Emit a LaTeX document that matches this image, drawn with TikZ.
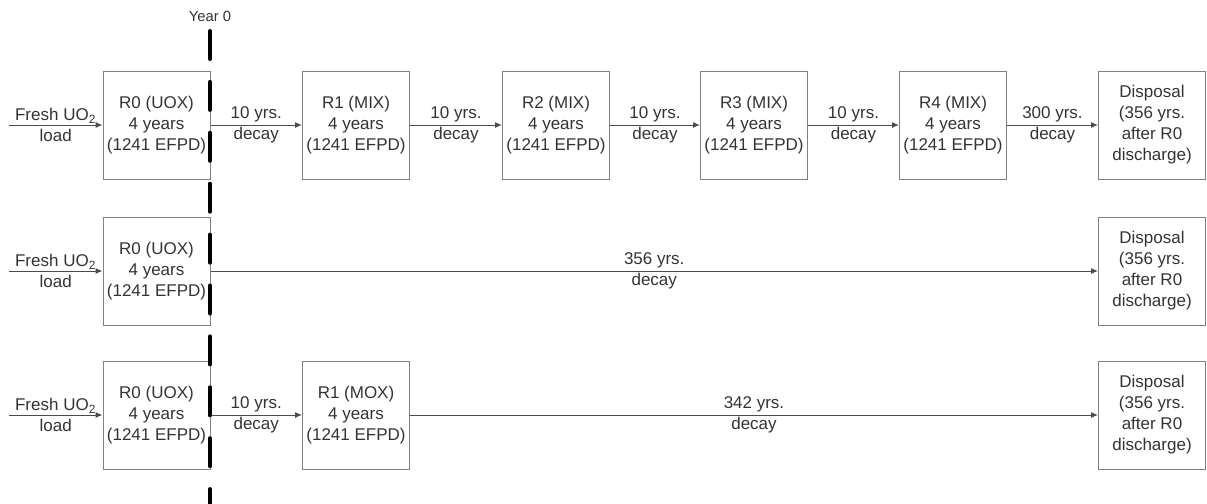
\documentclass[tikz,border=0pt]{standalone}
\usepackage{fontspec}
\setmainfont{Liberation Sans}
\usetikzlibrary{arrows.meta, positioning, calc}

\begin{document}
\begin{tikzpicture}[x=0.5pt, y=-0.5pt,
    every node/.style={font=\fontsize{8.5}{10.5}\selectfont, text=black!80, align=center},
    reactor/.style={rectangle, draw=black!50, line width=0.5pt, minimum width=53.5pt, minimum height=54pt, inner sep=0pt},
    flow/.style={-{Latex[length=3.5pt, width=3pt]}, draw=black!70, line width=0.5pt},
    yearline/.style={line width=2pt, line cap=round, dash pattern=on 14pt off 11.45pt}]
    \useasboundingbox (0,0) rectangle (1207,504);

    % row 1: UOX then four MIX recycles
    \coordinate (in1) at (9,125);
    \node[reactor] (a0) at (156.5,125) {R0 (UOX)\\4 years\\(1241 EFPD)};
    \node[reactor] (a1) at (356,125) {R1 (MIX)\\4 years\\(1241 EFPD)};
    \node[reactor] (a2) at (556,125) {R2 (MIX)\\4 years\\(1241 EFPD)};
    \node[reactor] (a3) at (754,125) {R3 (MIX)\\4 years\\(1241 EFPD)};
    \node[reactor] (a4) at (953,125) {R4 (MIX)\\4 years\\(1241 EFPD)};
    \node[reactor] (ad) at (1152,125) {Disposal\\(356 yrs.\\after R0\\discharge)};
    \draw[flow] (in1) -- node[midway] {Fresh UO\textsubscript{2}\\load} (a0);
    \draw[flow] (a0) -- node[midway] {10 yrs.\\decay} (a1);
    \draw[flow] (a1) -- node[midway] {10 yrs.\\decay} (a2);
    \draw[flow] (a2) -- node[midway] {10 yrs.\\decay} (a3);
    \draw[flow] (a3) -- node[midway] {10 yrs.\\decay} (a4);
    \draw[flow] (a4) -- node[midway] {300 yrs.\\decay} (ad);

    % row 2: once through
    \coordinate (in2) at (9,271);
    \node[reactor] (b0) at (156.5,271) {R0 (UOX)\\4 years\\(1241 EFPD)};
    \node[reactor] (bd) at (1152,271) {Disposal\\(356 yrs.\\after R0\\discharge)};
    \draw[flow] (in2) -- node[midway] {Fresh UO\textsubscript{2}\\load} (b0);
    \draw[flow] (b0) -- node[midway] {356 yrs.\\decay} (bd);

    % row 3: one MOX recycle
    \coordinate (in3) at (9,415);
    \node[reactor] (c0) at (156.5,415) {R0 (UOX)\\4 years\\(1241 EFPD)};
    \node[reactor] (c1) at (356,415) {R1 (MOX)\\4 years\\(1241 EFPD)};
    \node[reactor] (cd) at (1152,415) {Disposal\\(356 yrs.\\after R0\\discharge)};
    \draw[flow] (in3) -- node[midway] {Fresh UO\textsubscript{2}\\load} (c0);
    \draw[flow] (c0) -- node[midway] {10 yrs.\\decay} (c1);
    \draw[flow] (c1) -- node[midway] {342 yrs.\\decay} (cd);

    % year 0 marker
    \node[font=\fontsize{7.4}{9}\selectfont] (year0) at (210,16) {Year 0};
    \coordinate (y0top) at (210,31);
    \coordinate (y0bot) at (210,510);
    \draw[yearline] (y0top) -- (y0bot);
\end{tikzpicture}
\end{document}
